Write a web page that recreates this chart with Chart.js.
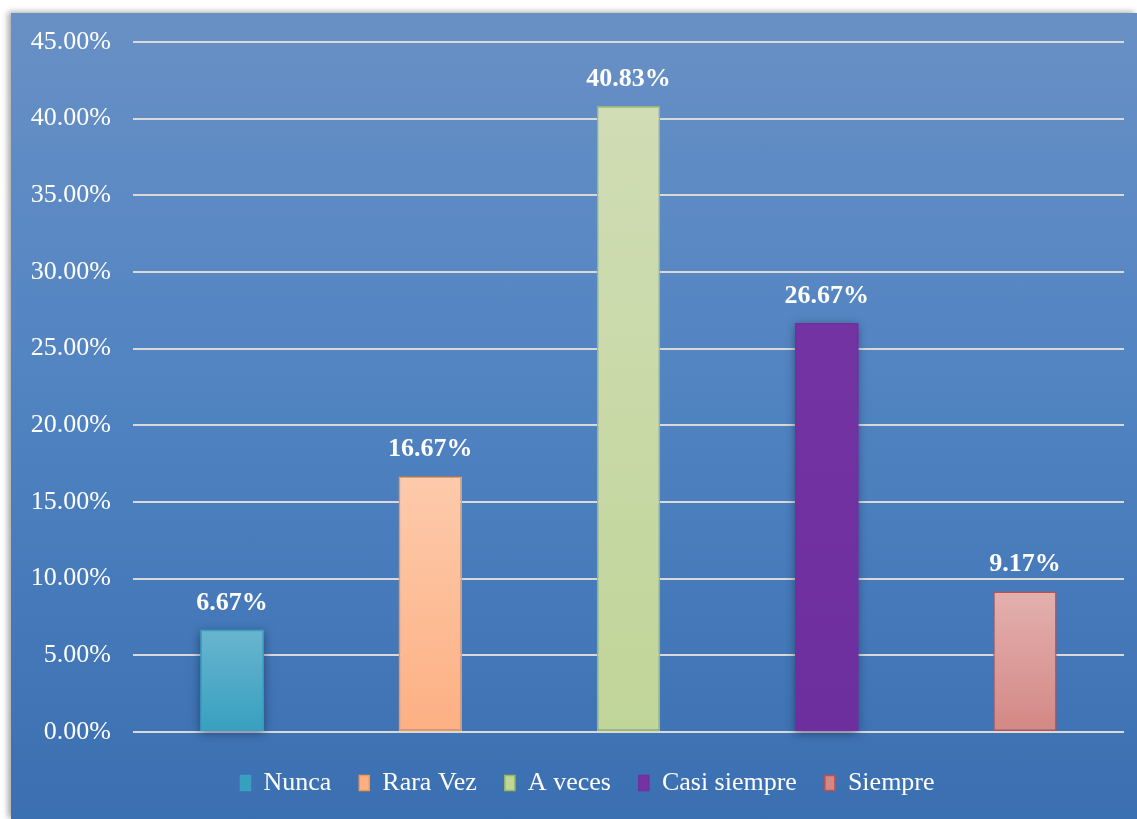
<!DOCTYPE html>
<html>
<head>
<meta charset="utf-8">
<script src="https://cdn.jsdelivr.net/npm/chart.js@4/dist/chart.umd.min.js"></script>
<style>
  html, body { margin: 0; padding: 0; background: #ffffff; width: 1137px; height: 819px; overflow: hidden; }
  #panel {
    position: absolute; left: 11px; top: 13px; width: 1126px; height: 806px;
    background: linear-gradient(to bottom, #6890c5 0%, #5284c2 45%, #3a6fb1 100%);
    box-shadow: -3px -1px 6px rgba(0,0,0,0.35);
  }
  canvas { display: block; }
</style>
</head>
<body>
<div id="panel"><canvas id="chart" width="1126" height="806"></canvas></div>
<script>
// Survey answers and their share of responses (%)
const categories = ['Nunca', 'Rara Vez', 'A veces', 'Casi siempre', 'Siempre'];
const values = [6.67, 16.67, 40.83, 26.67, 9.17];

// Axis range
const yMin = 0;
const yMax = 45;
const yStep = 5;

// Bar colours: gradient top, gradient bottom, outline
const fillTop = ['#6ab5cf', '#fdcaab', '#d0ddb5', '#7333a3', '#e3b0ae'];
const fillBottom = ['#36a0bf', '#fdb083', '#c0d598', '#6e2f9e', '#d38885'];
const outline = ['#3a9fc0', '#f79646', '#9bbb59', '#7030a0', '#c0504d'];
const shadowed = [true, false, false, true, false];

const FONT = "'Liberation Serif', 'Times New Roman', serif";
Chart.defaults.font.family = FONT;

function barGradient(ctx) {
  const chart = ctx.chart;
  const i = ctx.dataIndex;
  const ys = chart.scales && chart.scales.y;
  if (!ys || i === undefined) return fillTop[i] || fillTop[0];
  const top = ys.getPixelForValue(values[i]);
  const bottom = ys.getPixelForValue(0);
  if (!isFinite(top) || !isFinite(bottom) || top === bottom) return fillTop[i];
  const g = chart.ctx.createLinearGradient(0, top, 0, bottom);
  g.addColorStop(0, fillTop[i]);
  g.addColorStop(1, fillBottom[i]);
  return g;
}

// Soft drop shadow under the darker bars
const barShadow = {
  id: 'barShadow',
  beforeDatasetsDraw(chart) {
    const meta = chart.getDatasetMeta(0);
    const c = chart.ctx;
    meta.data.forEach((bar, i) => {
      if (!shadowed[i]) return;
      const p = bar.getProps(['x', 'y', 'width', 'base'], true);
      c.save();
      c.shadowColor = 'rgba(20, 30, 60, 0.55)';
      c.shadowBlur = 9;
      c.shadowOffsetX = 0;
      c.shadowOffsetY = 2;
      c.fillStyle = fillBottom[i];
      c.fillRect(p.x - p.width / 2, p.y, p.width, p.base - p.y);
      c.restore();
    });
  }
};

// Percentage labels above each bar
const valueLabels = {
  id: 'valueLabels',
  afterDatasetsDraw(chart) {
    const meta = chart.getDatasetMeta(0);
    const c = chart.ctx;
    c.save();
    c.font = 'bold 26px ' + FONT;
    c.fillStyle = '#ffffff';
    c.textAlign = 'center';
    c.textBaseline = 'alphabetic';
    meta.data.forEach((bar, i) => {
      const p = bar.getProps(['x', 'y'], true);
      c.fillText(values[i].toFixed(2) + '%', p.x, p.y - 20);
    });
    c.restore();
  }
};

// Centre the legend row under the plot area rather than the whole canvas
const legendOffset = {
  id: 'legendOffset',
  afterLayout(chart) {
    const lg = chart.legend;
    if (!lg) return;
    const shift = 20;
    lg.left += shift;
    lg.right += shift;
  }
};

new Chart(document.getElementById('chart'), {
  type: 'bar',
  data: {
    labels: categories,
    datasets: [{
      data: values,
      backgroundColor: barGradient,
      borderColor: outline,
      borderWidth: 1.5,
      borderSkipped: false,
      categoryPercentage: 1,
      barPercentage: 0.32
    }]
  },
  options: {
    responsive: false,
    animation: false,
    devicePixelRatio: 1,
    layout: { padding: { left: 0, right: 13, top: 29, bottom: 13 } },
    scales: {
      x: {
        grid: { display: false },
        border: { display: false },
        ticks: { display: false },
        afterFit(scale) { scale.height = 10; }
      },
      y: {
        min: yMin,
        max: yMax,
        ticks: {
          stepSize: yStep,
          color: '#ffffff',
          padding: 22,
          font: { family: FONT, size: 26 },
          callback: (v) => Number(v).toFixed(2) + '%'
        },
        grid: { color: '#d9d9d9', lineWidth: 2, drawTicks: false },
        border: { display: false },
        afterFit(scale) {
          scale.width = 122;
          scale.paddingTop = 0;
          scale.paddingBottom = 0;
        }
      }
    },
    plugins: {
      tooltip: { enabled: false },
      legend: {
        position: 'bottom',
        labels: {
          color: '#ffffff',
          font: { family: FONT, size: 26 },
          boxWidth: 10,
          boxHeight: 15,
          padding: 28,
          generateLabels: () => categories.map((name, i) => ({
            text: name,
            fillStyle: i === 3 ? fillTop[i] : fillBottom[i],
            strokeStyle: outline[i],
            lineWidth: 1.5,
            fontColor: '#ffffff',
            hidden: false,
            index: i
          }))
        }
      }
    }
  },
  plugins: [barShadow, valueLabels, legendOffset]
});
</script>
</body>
</html>
